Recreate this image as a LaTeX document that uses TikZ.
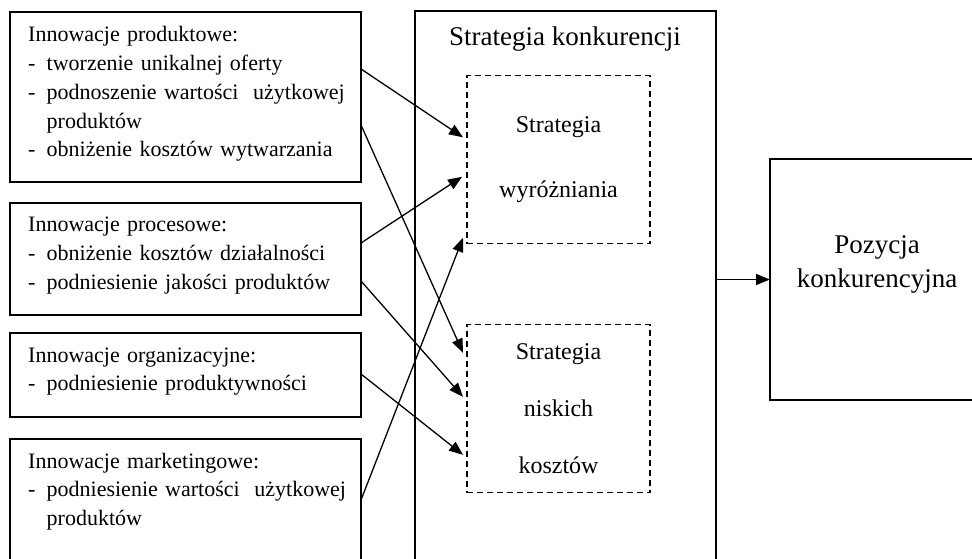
\documentclass[tikz,border=0pt]{standalone}
\usepackage{fontspec}
\setmainfont{Liberation Serif}
\usetikzlibrary{arrows.meta}
\newcommand{\kres}{\makebox[18.5pt][l]{-}}
\newcommand{\wcina}{\hspace*{18.5pt}}

\begin{document}
\begin{tikzpicture}[x=1pt,y=-1pt,
    ramka/.style={draw,line width=1.5pt,anchor=north west,inner sep=0pt,outer sep=0pt},
    kreska/.style={draw,dash pattern=on 6pt off 4pt,line width=1.2pt,inner sep=0pt,outer sep=0pt,
        minimum width=183pt,minimum height=168pt,align=center},
    opis/.style={anchor=base west,inner sep=0pt,text width=335pt,align=left,
        font=\fontsize{22}{28.8}\selectfont},
    strz/.style={-{Triangle[length=14pt,width=11pt]},line width=1.3pt}]
    \useasboundingbox (0,0) rectangle (972,558);
    \clip (0,0) rectangle (972,558);
    % ramki po lewej
    \node[ramka,minimum width=351pt,minimum height=170pt] (inprod) at (10,12) {};
    \node[ramka,minimum width=351pt,minimum height=112pt] (inproc) at (10,203) {};
    \node[ramka,minimum width=351pt,minimum height=84pt] (inorg) at (10,333) {};
    \node[ramka,minimum width=351pt,minimum height=170pt] (inmark) at (10,439) {};
    \node[opis] (tprod) at (28,41.7) {Innowacje produktowe:\\
        \kres tworzenie unikalnej oferty\\
        \kres podnoszenie wartości\ \ użytkowej\\
        \wcina produktów\\
        \kres obniżenie kosztów wytwarzania};
    \node[opis] (tproc) at (28,231.7) {Innowacje procesowe:\\
        \kres obniżenie kosztów działalności\\
        \kres podniesienie jakości produktów};
    \node[opis] (torg) at (28,362) {Innowacje organizacyjne:\\
        \kres podniesienie produktywności};
    \node[opis] (tmark) at (28,468) {Innowacje marketingowe:\\
        \kres podniesienie wartości\ \ użytkowej\\
        \wcina produktów};
    % strategia
    \node[ramka,minimum width=301pt,minimum height=600pt] (konk) at (415,11) {};
    \node[anchor=base,inner sep=0pt,font=\fontsize{27}{32}\selectfont] (ktyt) at (565,45.5) {Strategia konkurencji};
    \node[kreska,font=\fontsize{24}{65}\selectfont] (wyr) at (558.5,159.8) {Strategia\\wyróżniania};
    \node[kreska,font=\fontsize{24}{57}\selectfont] (nis) at (558.5,408.8) {Strategia\\niskich\\kosztów};
    % pozycja
    \node[ramka,minimum width=214pt,minimum height=241pt] (poz) at (770,159) {};
    \node[anchor=base,inner sep=0pt,text width=214pt,align=center,font=\fontsize{27}{34}\selectfont] (pozt) at (877,253) {Pozycja\\konkurencyjna};
    % strzalki
    \draw[strz] ([yshift=-57pt]inprod.north east) -- ([xshift=-4pt,yshift=-61.5pt]wyr.north west);
    \draw[strz] ([yshift=-113pt]inprod.north east) -- ([xshift=-4pt,yshift=-28pt]nis.north west);
    \draw[strz] ([yshift=-40pt]inproc.north east) -- ([xshift=-5pt,yshift=-101pt]wyr.north west);
    \draw[strz] ([yshift=-78pt]inproc.north east) -- ([xshift=-4pt,yshift=-72pt]nis.north west);
    \draw[strz] ([yshift=-41pt]inorg.north east) -- ([xshift=-4pt,yshift=-130pt]nis.north west);
    \draw[strz] ([yshift=-61pt]inmark.north east) -- ([xshift=-4pt,yshift=6pt]wyr.south west);
    \draw[strz] (konk.east |- poz.west) -- (poz.west);
\end{tikzpicture}
\end{document}
